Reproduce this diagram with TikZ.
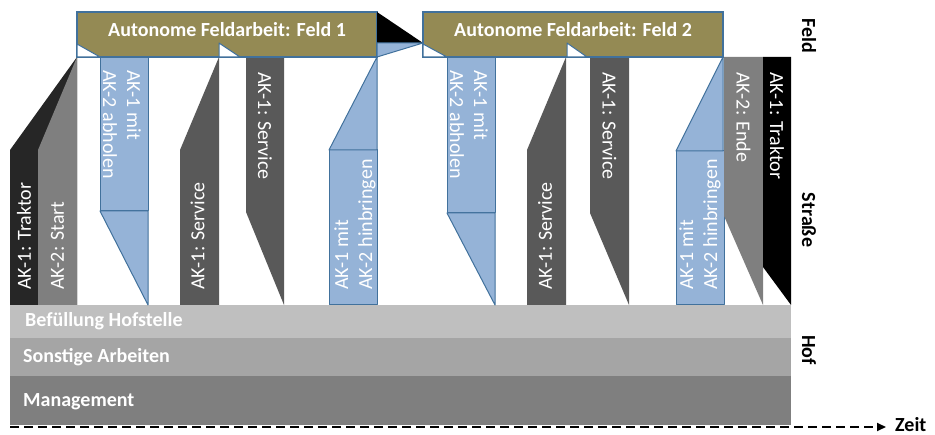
\documentclass[tikz,border=0pt]{standalone}
\usepackage{fontspec}
\setmainfont{Carlito}
\usetikzlibrary{arrows.meta}

\definecolor{fieldolive}{HTML}{948A54}
\definecolor{outlineblue}{HTML}{41719C}
\definecolor{taskblue}{HTML}{95B3D7}
\definecolor{servicegray}{HTML}{595959}
\definecolor{midgray}{HTML}{7F7F7F}
\definecolor{tractordark}{HTML}{262626}
\definecolor{bandA}{HTML}{BFBFBF}
\definecolor{bandB}{HTML}{A5A5A5}
\definecolor{bandC}{HTML}{7F7F7F}

\tikzset{
  lbl/.style={font=\fontsize{20}{24}\selectfont, text=white, inner sep=0pt, align=left},
  uplbl/.style={lbl, rotate=90, anchor=west},
  downlbl/.style={lbl, rotate=-90, anchor=west},
  boldlbl/.style={font=\fontsize{20}{24}\selectfont\bfseries, inner sep=0pt},
  bandlbl/.style={boldlbl, text=white, anchor=west},
  sidelbl/.style={boldlbl, text=black, rotate=-90},
  bluepart/.style={fill=taskblue, draw=outlineblue, line width=1pt, line join=round},
  boxframe/.style={fill=fieldolive, draw=outlineblue, line width=1.2pt},
  notch/.style={fill=white, draw=outlineblue, line width=1pt, line join=round},
  timeline/.style={line width=2pt, dash pattern=on 9pt off 5pt,
    -{Triangle[length=9pt,width=8pt]}},
}

\begin{document}
\begin{tikzpicture}[x=1pt,y=-1pt]
\useasboundingbox (0,0) rectangle (935,435);

% Hof lanes
\fill[bandA] (10,305) rectangle (791,338);
\fill[bandB] (10,338) rectangle (791,376);
\fill[bandC] (10,376) rectangle (791,425);
\node[bandlbl] (befuellung) at (25,321) {Befüllung Hofstelle};
\node[bandlbl] (sonstige) at (23,357) {Sonstige Arbeiten};
\node[bandlbl] (management) at (23,402) {Management};

% Straße: first cycle
\fill[tractordark] (10,305) -- (10,150) -- (77,57) -- (77,305) -- cycle;
\fill[midgray] (38,305) -- (38,150) -- (77,57) -- (77,305) -- cycle;
\node[uplbl] (trak1) at (24,290) {AK-1: Traktor};
\node[uplbl] (start) at (57.5,290) {AK-2: Start};

\draw[bluepart] (100,57) rectangle (148,211);
\draw[bluepart] (100,211) -- (148,211) -- (148,305) -- cycle;
\node[downlbl] (abh1) at (122,70) {AK-1 mit\\AK-2 abholen};

\fill[servicegray] (180,305) -- (180,150) -- (219,57) -- (219,305) -- cycle;
\node[uplbl] (serv1a) at (197.5,290) {AK-1: Service};

\fill[servicegray] (246,57) -- (284,57) -- (284,305) -- (246,212) -- cycle;
\node[downlbl] (serv1b) at (265,72) {AK-1: Service};

\draw[bluepart] (329,150) rectangle (377,305);
\draw[bluepart] (329,150) -- (377,57) -- (377,150) -- cycle;
\node[uplbl] (hin1) at (355,290) {AK-1 mit\\AK-2 hinbringen};

% Straße: second cycle
\draw[bluepart] (447,57) rectangle (495,213);
\draw[bluepart] (447,213) -- (495,213) -- (495,305) -- cycle;
\node[downlbl] (abh2) at (469,70) {AK-1 mit\\AK-2 abholen};

\fill[servicegray] (527,305) -- (527,150) -- (566,57) -- (566,305) -- cycle;
\node[uplbl] (serv2a) at (545,290) {AK-1: Service};

\fill[servicegray] (590,57) -- (629,57) -- (629,305) -- (590,213) -- cycle;
\node[downlbl] (serv2b) at (609.5,72) {AK-1: Service};

\draw[bluepart] (676,151) rectangle (724,305);
\draw[bluepart] (676,151) -- (723,57) -- (723,151) -- cycle;
\node[uplbl] (hin2) at (700,290) {AK-1 mit\\AK-2 hinbringen};

\fill[midgray] (724,57) -- (763,57) -- (763,305) -- (724,216) -- cycle;
\node[downlbl] (ende) at (743.5,72) {AK-2: Ende};

\fill[black] (763,57) -- (791,57) -- (791,305) -- (763,267) -- cycle;
\node[downlbl] (trak2) at (777,72) {AK-1: Traktor};

% Feld: autonomous field work blocks
\draw[boxframe] (77,12) rectangle (377,57);
\draw[notch] (77,44) -- (100,57) -- (77,57) -- cycle;
\draw[notch] (219,43) -- (240,57) -- (219,57) -- cycle;
\node[boldlbl, text=white] (feld1) at (227,30) {Autonome Feldarbeit: Feld 1};

\fill[black] (377,12) -- (423,43) -- (377,43) -- cycle;
\draw[bluepart] (377,43) -- (423,43) -- (377,57) -- cycle;

\draw[boxframe] (423,12) rectangle (723,57);
\draw[notch] (423,44) -- (447,57) -- (423,57) -- cycle;
\draw[notch] (567,43) -- (587,57) -- (567,57) -- cycle;
\node[boldlbl, text=white] (feld2) at (573,30) {Autonome Feldarbeit: Feld 2};

% Lane names
\node[sidelbl] (lfeld) at (809,36) {Feld};
\node[sidelbl] (lstrasse) at (809,220) {Straße};
\node[sidelbl] (lhof) at (809,350) {Hof};

% Time axis
\coordinate (t0) at (10,427);
\coordinate (t1) at (886,427);
\draw[timeline] (t0) -- (t1);
\node[boldlbl, text=black, anchor=west] (zeit) at (895,425) {Zeit};
\end{tikzpicture}
\end{document}
